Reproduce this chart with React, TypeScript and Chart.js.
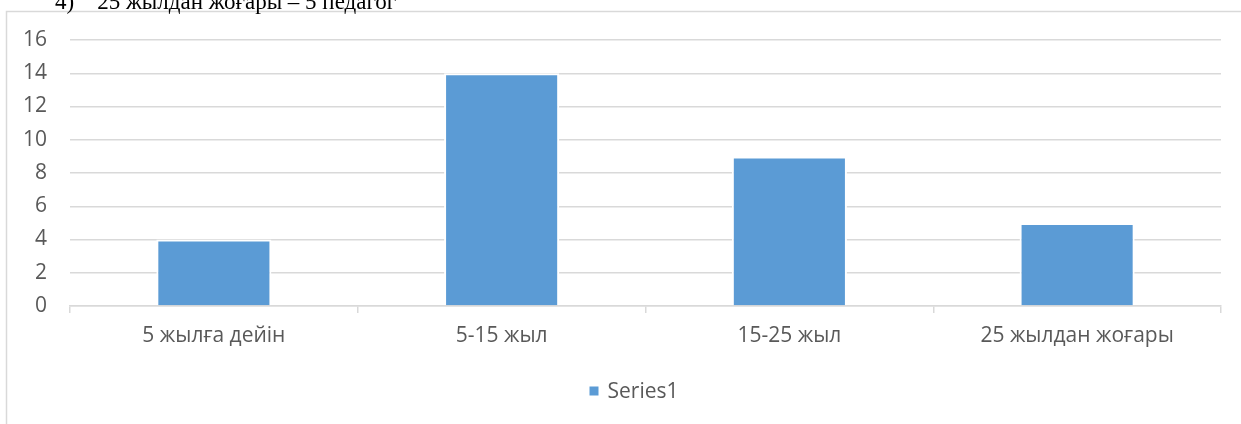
import React, { useEffect, useRef } from "react";
import { Chart, registerables } from "chart.js";

Chart.register(...registerables);

const categories = ["5 жылға дейін", "5-15 жыл", "15-25 жыл", "25 жылдан жоғары"];
const seriesName = "Series1";
const values = [4, 14, 9, 5];
const yTicks = [0, 2, 4, 6, 8, 10, 12, 14, 16];
const headingText = "4)    25 жылдан жоғары – 5 педагог";

const FONT = "'Open Sans', sans-serif";
const FSIZE = 21;
const TEXT = "#595959";
const GRID = "#d9d9d9";
const BAR = "#5b9bd5";

const frame = {
  id: "frame",
  beforeDraw(chart: any) {
    const ctx = chart.ctx;
    ctx.save();
    ctx.fillStyle = "#ffffff";
    ctx.fillRect(0, 0, chart.width, chart.height);
    ctx.strokeStyle = GRID;
    ctx.lineWidth = 1.5;
    ctx.strokeRect(6.5, 11.5, chart.width + 10, chart.height + 10);
    ctx.restore();
  },
};

const customLegend = {
  id: "customLegend",
  afterDraw(chart: any) {
    const ctx = chart.ctx;
    const ds = chart.data.datasets[0];
    ctx.save();
    ctx.font = `${FSIZE}px ${FONT}`;
    const box = 9;
    const gap = 9;
    const tw = ctx.measureText(ds.label).width;
    const total = box + gap + tw;
    const cx = 634;
    const cy = 392;
    const x0 = cx - total / 2;
    ctx.fillStyle = ds.backgroundColor;
    ctx.fillRect(x0, cy - box / 2 - 1, box, box);
    ctx.fillStyle = TEXT;
    ctx.textBaseline = "middle";
    ctx.textAlign = "left";
    ctx.fillText(ds.label, x0 + box + gap, cy);
    ctx.restore();
  },
};

export default function App() {
  const ref = useRef<HTMLCanvasElement>(null);
  useEffect(() => {
    if (!ref.current) return;
    const chart = new Chart(ref.current, {
      type: "bar",
      data: {
        labels: categories,
        datasets: [
          {
            label: seriesName,
            data: values,
            backgroundColor: BAR,
            borderColor: "#ffffff",
            borderWidth: 2,
            categoryPercentage: 1,
            barPercentage: 0.4,
          },
        ],
      },
      options: {
        animation: false,
        responsive: false,
        layout: { padding: { top: 40, right: 20, left: 0, bottom: 62 } },
        plugins: {
          tooltip: { enabled: false },
          legend: { display: false },
        },
        scales: {
          x: {
            grid: {
              display: true,
              drawOnChartArea: false,
              drawTicks: true,
              tickLength: 7,
              color: GRID,
              lineWidth: 1.5,
            },
            border: { display: true, color: GRID, width: 1.5 },
            ticks: { color: TEXT, font: { family: FONT, size: FSIZE }, padding: 10, maxRotation: 0 },
            afterFit: (s: any) => {
              s.height = 56;
            },
          },
          y: {
            min: 0,
            max: 16,
            afterBuildTicks: (s: any) => {
              s.ticks = yTicks.map((v) => ({ value: v }));
            },
            grid: { color: GRID, lineWidth: 1.5, drawTicks: false },
            border: { display: false },
            ticks: { color: TEXT, font: { family: FONT, size: FSIZE }, padding: 23 },
            afterFit: (s: any) => {
              s.width = 70;
            },
          },
        },
      },
      plugins: [frame, customLegend],
    });
    return () => chart.destroy();
  }, []);
  return (
    <div style={{ position: "fixed", left: 0, top: 0, width: 1241, height: 424, overflow: "hidden", background: "#fff" }}>
      <canvas ref={ref} width={1241} height={424} style={{ position: "absolute", left: 0, top: 0 }} />
      <div
        style={{
          position: "absolute",
          left: 55,
          top: -10,
          fontFamily: "'Liberation Serif', 'Times New Roman', serif",
          fontSize: 23,
          color: "#000",
          whiteSpace: "pre",
          lineHeight: "23px",
        }}
      >
        {headingText}
      </div>
    </div>
  );
}
